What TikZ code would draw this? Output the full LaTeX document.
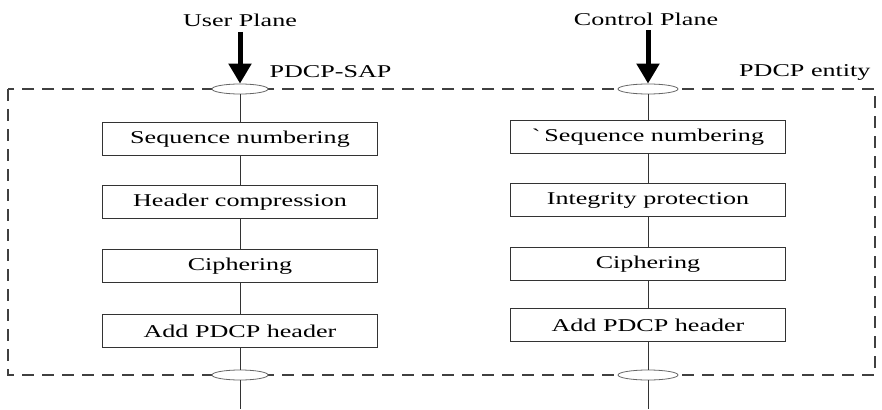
\documentclass[tikz,border=0pt]{standalone}
\usepackage{fontspec}
\setmainfont{Liberation Serif}[FakeStretch=1.45]
\usetikzlibrary{arrows.meta,shapes,positioning}

\begin{document}
\begin{tikzpicture}[x=1pt,y=-1pt,
    funcbox/.style={rectangle, draw=black!80, line width=0.8pt, minimum width=275pt, minimum height=33pt, inner sep=0pt, font=\fontsize{18}{20}\selectfont},
    sap/.style={ellipse, draw=black!60, line width=0.8pt, minimum width=56pt, minimum height=10pt, inner sep=0pt},
    link/.style={draw=black!80, line width=0.8pt},
    bigarrow/.style={-{Triangle[length=20pt,width=22pt]}, line width=5pt},
    lbl/.style={font=\fontsize{18}{20}\selectfont}]
        \useasboundingbox (0,0) rectangle (882,409);

        % PDCP entity frame
        \draw[dashed, dash pattern=on 12pt off 8pt, line width=1.2pt, black!75] (8,89) rectangle (875,375);
        \node[lbl, anchor=south east] (entity) at (874,84) {PDCP entity};

        % User plane
        \node[lbl] (up) at (240,20) {User Plane};
        \node[sap, fill=white] (uptop) at (240,89) {};
        \node[lbl, anchor=west] (sapl) at (266,72) {PDCP-SAP};
        \draw[bigarrow] (240,32) -- (uptop.north);

        \node[funcbox] (useq) at (240,139) {Sequence numbering};
        \node[funcbox] (uhdr) at (240,202) {Header compression};
        \node[funcbox] (ucip) at (240,266) {Ciphering};
        \node[funcbox] (uadd) at (240,331) {Add PDCP header};
        \node[sap, fill=white] (upbot) at (240,375) {};
        \coordinate (upend) at (240,409);

        \draw[link] (uptop) -- (useq);
        \draw[link] (useq) -- (uhdr);
        \draw[link] (uhdr) -- (ucip);
        \draw[link] (ucip) -- (uadd);
        \draw[link] (uadd) -- (upbot.north);
        \draw[link] (upbot.south) -- (upend);

        % Control plane
        \node[lbl] (cp) at (646,19) {Control Plane};
        \node[sap, minimum width=60pt, fill=white] (cptop) at (648,89) {};
        \draw[bigarrow] (648,30) -- (cptop.north);

        \node[funcbox] (cseq) at (648,137) {\textasciigrave{} Sequence numbering};
        \node[funcbox] (cint) at (648,200) {Integrity protection};
        \node[funcbox] (ccip) at (648,264) {Ciphering};
        \node[funcbox] (cadd) at (648,325) {Add PDCP header};
        \node[sap, minimum width=60pt, fill=white] (cpbot) at (648,375) {};
        \coordinate (cpend) at (648,409);

        \draw[link] (cptop) -- (cseq);
        \draw[link] (cseq) -- (cint);
        \draw[link] (cint) -- (ccip);
        \draw[link] (ccip) -- (cadd);
        \draw[link] (cadd) -- (cpbot.north);
        \draw[link] (cpbot.south) -- (cpend);

      \end{tikzpicture}
\end{document}
